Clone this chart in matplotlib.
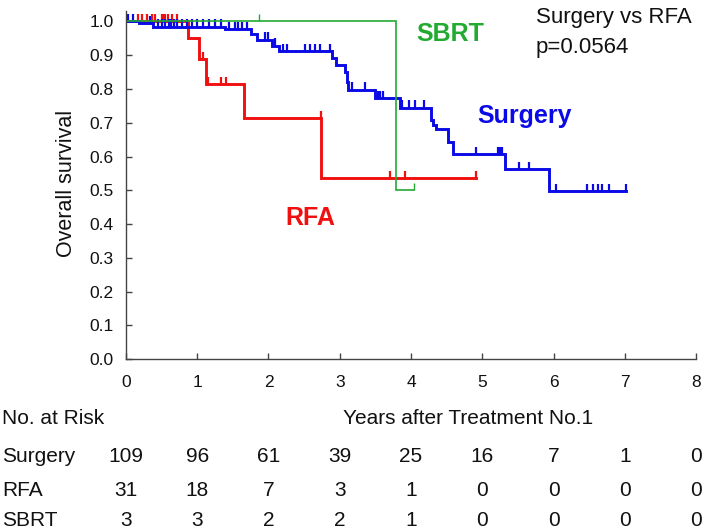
import numpy as np
import matplotlib.pyplot as plt
import matplotlib.transforms as mtransforms

plt.rcParams['font.family'] = ['Liberation Sans', 'DejaVu Sans']

# =====================================================
# DATA
# =====================================================
surgery_t = [0, 0.18, 0.38, 1.39, 1.76, 1.84, 2.05, 2.15, 2.89, 2.95, 3.07,
             3.10, 3.12, 3.49, 3.85, 4.28, 4.31, 4.35, 4.52, 4.59, 5.32, 5.93, 7.02]
surgery_s = [1.0, 0.994, 0.984, 0.976, 0.962, 0.945, 0.928, 0.912, 0.89, 0.871, 0.85,
             0.82, 0.797, 0.772, 0.744, 0.708, 0.693, 0.680, 0.644, 0.607, 0.562, 0.498, 0.498]
surgery_cens = [0.03, 0.10, 0.34, 0.45, 0.50, 0.55, 0.60, 0.63, 0.68, 0.72, 0.78, 0.85,
                0.92, 1.00, 1.08, 1.17, 1.25, 1.33, 1.45, 1.53, 1.57, 1.63, 1.70,
                1.95, 1.99, 2.09, 2.20, 2.26, 2.51, 2.58, 2.65, 2.72, 2.86,
                3.17, 3.35, 3.53, 3.57, 3.61, 3.87, 3.97, 4.05, 4.18,
                4.91, 5.22, 5.25, 5.28, 5.52, 5.66,
                6.04, 6.47, 6.55, 6.62, 6.68, 6.78, 7.02]

rfa_t = [0, 0.87, 1.03, 1.12, 1.66, 2.74, 4.91]
rfa_s = [1.0, 0.95, 0.888, 0.814, 0.713, 0.535, 0.535]
rfa_cens = [0.17, 0.22, 0.29, 0.36, 0.41, 0.50, 0.52, 0.55, 0.59, 0.64, 0.71,
            1.08, 1.15, 1.33, 1.41, 2.73, 3.70, 3.92, 4.91]

sbrt_t = [0, 3.79, 4.04]
sbrt_s = [1.0, 0.5, 0.5]
sbrt_cens = [1.87, 4.04]

risk_years = [0, 1, 2, 3, 4, 5, 6, 7, 8]
risk_surgery = [109, 96, 61, 39, 25, 16, 7, 1, 0]
risk_rfa = [31, 18, 7, 3, 1, 0, 0, 0, 0]
risk_sbrt = [3, 3, 2, 2, 1, 0, 0, 0, 0]

BLUE = '#0a0ae6'
RED = '#f01010'
GREEN = '#22aa33'


def level_at(t_list, s_list, t):
    # survival level of a step curve at time t
    idx = np.searchsorted(t_list, t, side='right') - 1
    return s_list[max(idx, 0)]


def draw_km(ax, t_list, s_list, cens, color, lw, tick_lw):
    ax.step(t_list, s_list, where='post', color=color, lw=lw,
            solid_joinstyle='miter')
    ys = [level_at(t_list, s_list, c) for c in cens]
    ax.vlines(cens, ys, np.array(ys) + 0.022, color=color, lw=tick_lw)


# =====================================================
# FIGURE
# =====================================================
fig = plt.figure(figsize=(7.09, 5.30), dpi=100)
ax = fig.add_axes([0.1777, 0.3221, 0.8040, 0.6568])

draw_km(ax, rfa_t, rfa_s, rfa_cens, RED, 2.1, 1.6)
draw_km(ax, surgery_t, surgery_s, surgery_cens, BLUE, 2.1, 1.6)
draw_km(ax, sbrt_t, sbrt_s, sbrt_cens, GREEN, 1.2, 1.0)

ax.set_xlim(0, 8)
ax.set_ylim(0, 1.03)
ax.set_xticks(range(9))
ax.set_yticks(np.arange(0, 1.01, 0.1))
ax.set_yticklabels([f'{v:.1f}' for v in np.arange(0, 1.01, 0.1)])
ax.tick_params(direction='in', length=4, width=1, color='#444444',
               labelsize=12.5, labelcolor='#111111')
ax.tick_params(axis='y', pad=9)
ax.tick_params(axis='x', pad=11)
for side in ['top', 'right']:
    ax.spines[side].set_visible(False)
for side in ['left', 'bottom']:
    ax.spines[side].set_color('#444444')
    ax.spines[side].set_linewidth(1)

fig.text(67 / 709, 1 - 183 / 530, 'Overall survival', rotation=90,
         ha='center', va='center', fontsize=15.5, color='#111111')

# group labels
ax.text(4.07, 0.942, 'SBRT', color=GREEN, fontsize=18, fontweight='bold',
        va='baseline')
ax.text(4.93, 0.698, 'Surgery', color=BLUE, fontsize=18, fontweight='bold',
        va='baseline')
ax.text(2.23, 0.397, 'RFA', color=RED, fontsize=18, fontweight='bold',
        va='baseline')

fig.text(536 / 709, 1 - 23 / 530, 'Surgery vs RFA', fontsize=16,
         va='baseline', color='#111111')
fig.text(536 / 709, 1 - 53 / 530, 'p=0.0564', fontsize=16,
         va='baseline', color='#111111')

# =====================================================
# NUMBER AT RISK TABLE
# =====================================================
narrow = ['Liberation Sans Narrow', 'Liberation Sans', 'DejaVu Sans']
trans = mtransforms.blended_transform_factory(ax.transData, fig.transFigure)

fig.text(2 / 709, 1 - 418 / 530, 'No. at Risk', family=narrow,
         fontsize=15, va='center', color='#111111')
ax.text(4.8, 1 - 418 / 530, 'Years after Treatment No.1', family=narrow,
        fontsize=15, va='center', ha='center', transform=trans,
        color='#111111')

rows = [('Surgery', risk_surgery, 457), ('RFA', risk_rfa, 490),
        ('SBRT', risk_sbrt, 521)]
for name, counts, ypix in rows:
    yf = 1 - ypix / 530
    fig.text(2 / 709, yf, name, family=narrow, fontsize=15, va='center',
             color='#111111')
    for x, n in zip(risk_years, counts):
        ax.text(x, yf, str(n), family=narrow, fontsize=15, va='center',
                ha='center', transform=trans, color='#111111')

fig.savefig('out.png', dpi=100)
